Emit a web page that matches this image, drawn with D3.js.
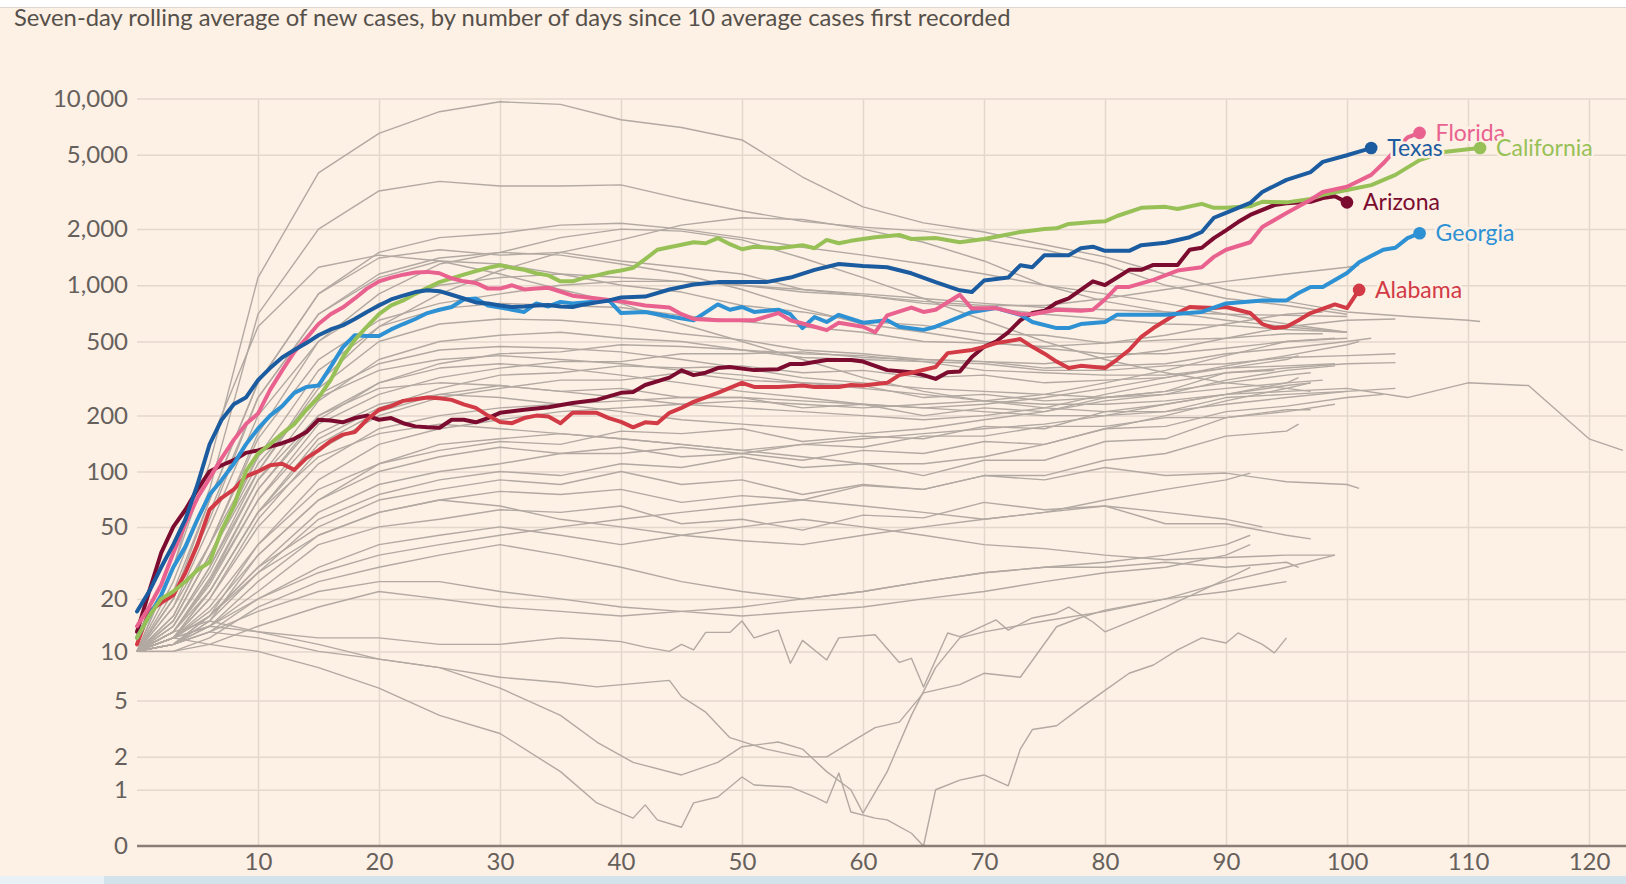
<!DOCTYPE html>
<html>
<head>
<meta charset="utf-8">
<script src="https://cdn.jsdelivr.net/npm/d3@7"></script>
<style>
  html, body { margin: 0; padding: 0; background: #fdf0e5; overflow: hidden; }
  svg { display: block; }
</style>
</head>
<body>
<div id="chart"></div>
<script>
// ---- data: seven-day average of new cases, by days since 10 average cases ----
const yTicks = [0, 1, 2, 5, 10, 20, 50, 100, 200, 500, 1000, 2000, 5000, 10000];
const xTicks = [10, 20, 30, 40, 50, 60, 70, 80, 90, 100, 110, 120];

// highlighted states as [day, cases]
const texas = [[0,17],[1,22],[2,30],[3,40],[4,55],[5,85],[6,140],[7,190],[8,230],[9,250],[10,310],[11,360],[12,410],[13,450],[14,490],[15,540],[16,580],[17,610],[18,660],[19,720],[20,780],[21,840],[22,880],[23,920],[24,940],[25,930],[26,890],[27,850],[28,810],[29,800],[30,780],[31,765],[32,770],[33,780],[34,785],[35,770],[36,765],[37,790],[38,810],[39,830],[40,860],[42,870],[44,950],[46,1010],[48,1040],[50,1040],[52,1040],[54,1100],[56,1210],[58,1300],[60,1270],[62,1250],[64,1160],[66,1040],[68,940],[69,920],[70,1060],[72,1100],[73,1280],[74,1250],[75,1450],[77,1450],[78,1580],[79,1610],[80,1530],[82,1530],[83,1640],[85,1690],[87,1810],[88,1930],[89,2300],[90,2440],[92,2760],[93,3160],[95,3670],[97,4040],[98,4580],[100,4970],[101,5200],[102,5430]];
const florida = [[0,14],[1,18],[2,24],[3,36],[4,52],[5,72],[6,92],[7,118],[8,148],[9,180],[10,205],[11,275],[12,350],[13,440],[14,520],[15,620],[16,700],[17,760],[18,850],[19,960],[20,1050],[21,1100],[22,1140],[23,1170],[24,1180],[25,1160],[26,1090],[27,1050],[28,1030],[29,960],[30,960],[31,1000],[32,950],[33,960],[34,970],[36,880],[38,850],[40,820],[42,780],[44,760],[45,700],[46,660],[48,650],[50,650],[51,650],[53,710],[54,650],[56,600],[57,575],[58,630],[60,600],[61,560],[62,690],[64,760],[65,720],[66,740],[68,890],[69,750],[71,755],[73,700],[74,700],[76,740],[78,730],[79,740],[80,840],[81,980],[82,980],[84,1070],[86,1200],[88,1250],[89,1420],[90,1550],[92,1700],[93,2050],[95,2440],[97,2870],[98,3160],[100,3370],[102,3900],[103,4500],[104,5300],[105,6200],[106,6550]];
const california = [[0,12],[1,16],[2,20],[3,22],[4,25],[5,29],[6,32],[7,48],[8,65],[9,100],[10,125],[11,140],[12,160],[13,180],[14,215],[15,250],[16,310],[17,410],[18,510],[19,600],[20,700],[21,780],[22,830],[23,900],[24,970],[25,1040],[26,1090],[27,1140],[28,1190],[29,1240],[30,1280],[31,1240],[32,1210],[33,1160],[34,1130],[35,1050],[36,1050],[37,1100],[38,1130],[39,1170],[40,1200],[41,1240],[42,1380],[43,1550],[44,1600],[46,1700],[47,1680],[48,1790],[49,1660],[50,1560],[51,1610],[53,1580],[55,1640],[56,1580],[57,1750],[58,1680],[59,1730],[61,1810],[63,1860],[64,1770],[66,1790],[68,1700],[70,1770],[71,1820],[73,1930],[75,2000],[76,2020],[77,2130],[79,2180],[80,2200],[81,2350],[83,2600],[85,2630],[86,2560],[88,2730],[89,2600],[90,2600],[92,2650],[93,2800],[95,2780],[97,2900],[98,3050],[100,3240],[102,3440],[104,3900],[106,4680],[108,5170],[110,5350],[111,5430]];
const arizona = [[0,13],[1,22],[2,36],[3,50],[4,62],[5,80],[6,100],[7,108],[8,115],[9,126],[10,130],[11,136],[12,142],[13,150],[14,163],[15,190],[16,188],[17,184],[18,194],[19,200],[20,190],[21,194],[22,182],[23,175],[24,173],[25,172],[26,190],[27,190],[28,184],[29,194],[30,207],[32,215],[34,222],[36,234],[38,243],[40,265],[41,268],[42,292],[44,320],[45,350],[46,330],[47,340],[48,360],[49,365],[51,351],[53,355],[54,379],[55,379],[57,398],[59,398],[60,390],[62,351],[64,342],[65,330],[66,315],[67,342],[68,345],[69,413],[70,468],[71,500],[72,560],[73,650],[74,710],[75,730],[76,806],[77,850],[78,945],[79,1050],[80,1003],[81,1100],[82,1210],[83,1210],[84,1285],[86,1285],[87,1552],[88,1590],[89,1790],[90,1970],[91,2180],[92,2380],[94,2690],[95,2750],[97,2800],[98,2930],[99,3000],[100,2780]];
const georgia = [[0,12],[1,16],[2,21],[3,30],[4,39],[5,55],[6,75],[7,90],[8,110],[9,140],[10,170],[11,200],[12,225],[13,265],[14,285],[15,290],[16,365],[17,465],[18,540],[19,535],[20,535],[21,580],[22,620],[23,660],[24,710],[25,740],[26,765],[27,840],[28,850],[29,780],[30,760],[31,740],[32,720],[33,800],[34,770],[35,815],[36,800],[37,810],[38,820],[39,830],[40,710],[42,720],[44,680],[46,650],[48,790],[49,740],[50,765],[51,720],[53,740],[54,700],[55,590],[56,676],[57,636],[58,695],[60,630],[62,650],[63,600],[65,577],[66,600],[67,636],[69,720],[71,755],[73,695],[74,636],[76,590],[77,590],[78,620],[80,636],[81,695],[85,695],[88,720],[90,800],[93,830],[95,830],[96,910],[97,980],[98,980],[100,1164],[101,1330],[103,1552],[104,1590],[105,1790],[106,1900]];
const alabama = [[0,11],[1,17],[2,19],[3,21],[4,28],[5,40],[6,62],[7,72],[8,80],[9,94],[10,100],[11,108],[12,110],[13,102],[14,118],[15,130],[16,146],[17,158],[18,163],[19,190],[20,215],[21,225],[22,240],[23,245],[24,250],[25,248],[26,243],[27,230],[28,220],[29,200],[30,185],[31,182],[32,194],[33,200],[34,198],[35,182],[36,207],[37,207],[38,207],[39,194],[40,185],[41,173],[42,184],[43,182],[44,207],[45,220],[46,237],[48,265],[50,300],[51,285],[53,285],[55,290],[56,285],[58,285],[59,292],[60,290],[62,300],[63,330],[64,340],[66,365],[67,433],[69,450],[70,468],[71,490],[73,515],[74,468],[75,430],[76,390],[77,360],[78,370],[80,360],[81,400],[82,450],[83,530],[84,590],[86,710],[87,765],[89,755],[90,765],[92,710],[93,620],[94,590],[95,600],[96,650],[97,710],[99,790],[100,755],[101,945]];

const highlightNames = ['Arizona', 'Alabama', 'Georgia', 'California', 'Florida', 'Texas'];
const highlightSeries = [arizona, alabama, georgia, california, florida, texas];

// other states: values on a shared day grid, last value sits on greyEnd day
const greyDays = [0, 3, 6, 10, 15, 20, 25, 30, 35, 40, 45, 50, 55, 60, 65, 70, 75, 80, 85, 90, 95, 100, 105, 110, 115, 120];
const greyEnd = [111, 100, 100, 100, 98, 97, 100, 100, 97, 101, 100, 98, 104, 104, 99, 102, 101, 99, 104, 122.8,
                 100, 103, 97, 99, 96, 101, 97, 99, 96, 92, 94, 98, 96, 97, 99, 97, 104, 96, 93, 92, 92];
const greyValues = [
  [10,30,110,1100,4000,6500,8500,9600,9300,7700,7000,6000,3800,2630,2160,1930,1650,1420,1150,950,820,720,680,650,640],
  [10,25,80,700,2000,3200,3600,3400,3400,3450,2900,2500,2200,2050,1950,1750,1550,1300,1000,850,780,700],
  [10,20,70,300,900,1500,1800,1900,2100,2150,2000,1800,1600,1450,1300,1150,1000,900,800,700,620,560],
  [10,22,70,300,900,1400,1550,1450,1500,1350,1250,1150,950,880,800,760,700,660,620,610,580,560],
  [10,20,55,250,700,1100,1350,1300,1150,1000,920,780,720,640,610,550,540,490,510,520,550,550],
  [10,18,40,160,500,900,1300,1500,1800,2000,1950,1750,1400,1100,850,650,500,400,340,300,280,270],
  [10,15,35,100,300,600,900,1200,1500,1750,2100,2300,2250,2000,1700,1350,1000,820,720,650,600,560],
  [10,20,60,250,700,1150,1400,1500,1450,1300,1150,950,750,620,560,500,460,430,430,460,500,520],
  [10,30,140,600,1250,1450,1350,1150,950,800,620,500,400,320,270,240,220,210,230,260,290,300],
  [10,18,50,200,500,800,1000,1100,1150,1100,1050,1000,920,880,820,780,780,850,950,1050,1150,1250,1280],
  [10,16,40,150,400,650,800,900,1000,1050,1050,1000,950,900,850,800,760,740,720,700,690,680],
  [10,15,35,120,350,600,750,800,780,760,690,640,600,560,500,490,470,490,540,620,700,720],
  [10,14,30,100,280,500,620,660,650,610,550,510,450,430,400,390,380,410,450,520,600,650,660],
  [10,14,28,90,240,400,500,540,560,520,500,450,430,420,390,380,350,350,370,380,410,420,430],
  [10,13,25,80,200,300,380,430,440,480,470,450,410,400,390,350,340,330,330,360,370,380],
  [10,13,24,70,180,260,320,360,390,390,430,430,440,410,400,390,360,370,380,430,460,500,520],
  [10,12,22,60,150,220,280,330,340,370,360,370,340,350,320,330,300,310,320,370,420,480,500],
  [10,12,20,55,130,200,250,280,310,310,340,310,300,290,250,260,240,250,260,310,350,370],
  [10,13,22,60,140,210,260,290,270,280,250,250,220,230,200,220,210,250,270,340,360,380,385],
  [10,16,40,120,250,350,400,420,400,380,350,330,300,280,260,240,230,230,240,260,270,280,250,300,290,150,130],
  [10,12,18,40,80,110,130,145,140,165,160,170,145,155,150,175,170,210,210,250,260,270],
  [10,12,17,35,70,100,120,135,125,135,120,125,115,130,125,145,140,170,175,210,225,250,260],
  [10,11,16,30,60,85,100,110,125,125,135,125,140,135,155,155,175,175,195,195,215,215],
  [10,11,15,28,55,75,90,100,95,110,105,120,105,110,95,115,115,145,150,195,210,230],
  [10,12,16,30,50,70,80,90,85,100,85,90,75,85,80,95,95,115,125,155,165,180],
  [10,11,14,25,45,60,70,78,75,80,68,74,70,84,80,95,90,105,95,98,88,85,81],
  [10,11,14,22,40,50,55,62,60,65,52,55,48,58,56,68,62,65,52,52,45,43],
  [10,12,14,20,30,40,45,50,45,40,45,50,55,50,45,40,38,35,33,34,35,35],
  [10,10,12,18,25,30,35,40,35,30,25,22,20,22,25,28,30,30,32,30,32,30],
  [10,11,13,17,22,25,25,22,20,18,17,16,17,18,20,22,25,28,30,35,40],
  [10,14,30,90,200,280,300,290,270,250,230,220,210,200,190,200,220,260,300,340,350],
  [10,13,25,70,160,230,260,250,230,210,190,180,170,160,170,190,210,240,260,280,300,310],
  [10,12,20,50,110,170,200,220,230,240,250,250,240,230,220,230,250,280,320,360,400,420],
  [10,15,35,110,260,380,450,470,460,440,400,360,320,300,280,270,260,250,270,300,330,340],
  [10,11,16,40,90,140,170,190,210,220,230,240,230,220,230,240,260,300,350,420,500,520],
  [10,12,22,60,120,160,180,170,160,150,140,130,120,110,110,120,140,170,200,240,280,300],
  [10,13,26,80,190,300,360,380,360,330,300,270,250,230,220,210,200,200,210,230,250,270,280],
  [10,11,15,35,70,110,140,150,160,150,140,130,140,150,160,170,180,200,230,260,300,320],
  [10,12,16,28,45,60,70,65,55,50,45,42,40,45,50,55,60,65,60,55,50],
  [10,11,13,20,28,35,40,45,50,55,60,65,70,65,60,55,60,70,80,90,98],
  [10,10,11,14,18,22,20,18,17,16,17,18,20,22,25,28,30,32,35,40,45]
];

// low states read at finer spacing, [day, cases]
const dipToZero = [[0,10],[3,12],[6,11],[10,10],[15,8],[20,6],[25,4],[30,3],[35,1.5],[38,0.7],[41,0.41],[42,0.66],[43,0.38],[45,0.26],[46,0.7],[48,0.83],[50,1.34],[51,1.12],[54,1.07],[56,0.83],[57,0.7],[58,1.46],[59,0.52],[61,0.41],[62,0.38],[64,0.17],[65,0],[66,1],[68,1.25],[70,1.4],[72,1.1],[73,2.3],[74,3.2],[76,3.4],[78,4.5],[80,5.8],[82,7.4],[84,8.3],[86,10.2],[88,12],[90,11.2],[91,12.8],[93,11],[94,9.8],[95,12]];
const dipAndRise = [[0,10],[3,12],[6,14],[10,13],[15,11],[20,9],[25,8],[30,6],[35,4],[38,2.6],[41,1.8],[45,1.4],[48,1.8],[50,2.4],[53,2.6],[55,2.3],[57,1.5],[59,1],[60,0.5],[62,1.5],[64,4],[66,8],[68,12],[70,13],[75,15],[80,17],[85,20],[90,25],[95,30],[99,35]];
const lowPlateau = [[0,10],[3,11],[6,13],[10,12],[15,10],[20,9],[25,8],[30,7],[35,6.5],[38,6.1],[44,6.7],[45,5.3],[47,4.2],[49,2.8],[52,2.3],[55,2],[57,2],[59,2.6],[61,3.3],[63,3.6],[65,5.6],[68,6.3],[70,7.4],[73,7],[76,13.9],[78,15.7],[80,17.3],[85,20],[90,22],[95,25]];
const jaggedTen = [[0,10],[3,13],[6,15],[10,13],[15,12],[20,12],[25,11],[30,11],[35,12],[38,11.7],[40,11.4],[42,10.6],[44,10],[45,11],[46,10.2],[47,12.9],[49,12.9],[50,15],[51,12],[53,13.3],[54,8.5],[55,11.6],[57,8.9],[58,12],[61,12.5],[63,8.6],[64,9.1],[65,6.1],[67,12.8],[68,12.2],[71,15.2],[72,13.3],[74,15.6],[76,16.6],[77,18],[79,14.8],[80,13],[85,18],[89,24],[92,30]];
const lowSeries = [dipToZero, dipAndRise, lowPlateau, jaggedTen];

const colours = {
  Texas: '#1b5b9f', Florida: '#e9628f', California: '#97c157',
  Arizona: '#7b0c30', Georgia: '#2d91d3', Alabama: '#d23a45'
};

class CasesChart {
  constructor(_config) {
    this.config = {
      parentElement: _config.parentElement,
      containerWidth: _config.containerWidth || 1626,
      containerHeight: _config.containerHeight || 884,
      plotLeft: 137,
      plotTop: 98.5,
      plotBottom: 846
    };
    this.initVis();
  }

  initVis() {
    let vis = this;
    const c = vis.config;

    vis.svg = d3.select(c.parentElement).append('svg')
      .attr('width', c.containerWidth)
      .attr('height', c.containerHeight);

    vis.svg.append('rect')
      .attr('width', c.containerWidth).attr('height', c.containerHeight)
      .attr('fill', '#fdf0e5');

    // strip at the very top and a scrollbar-like band at the bottom
    vis.svg.append('rect').attr('width', c.containerWidth).attr('height', 7).attr('fill', '#ffffff');
    vis.svg.append('line').attr('x1', 0).attr('x2', c.containerWidth).attr('y1', 7.5).attr('y2', 7.5)
      .attr('stroke', '#ddd5cf').attr('stroke-width', 1);
    vis.svg.append('rect').attr('y', 876).attr('width', c.containerWidth).attr('height', 8).attr('fill', '#d4e3eb');
    vis.svg.append('rect').attr('y', 876).attr('width', 104).attr('height', 8).attr('fill', '#e9f1f5');

    vis.xScale = d3.scaleLinear().domain([0, 120]).range([c.plotLeft, 1589]);
    vis.yScale = d3.scaleSymlog().constant(1).domain([0, 10000]).range([c.plotBottom, c.plotTop]);

    vis.yAxis = d3.axisLeft(vis.yScale)
      .tickValues(yTicks)
      .tickFormat(d3.format(','))
      .tickSize(-(c.containerWidth - c.plotLeft))
      .tickPadding(9);
    vis.xAxis = d3.axisBottom(vis.xScale)
      .tickValues(xTicks)
      .tickSize(-(c.plotBottom - c.plotTop))
      .tickPadding(7);

    vis.xAxisG = vis.svg.append('g').attr('transform', `translate(0,${c.plotBottom})`);
    vis.yAxisG = vis.svg.append('g').attr('transform', `translate(${c.plotLeft},0)`);

    vis.lineG = vis.svg.append('g');
    vis.labelG = vis.svg.append('g');

    vis.line = d3.line()
      .x(d => vis.xScale(d[0]))
      .y(d => vis.yScale(d[1]));

    // title
    vis.title = vis.svg.append('text')
      .attr('x', 14).attr('y', 26)
      .attr('font-family', 'Lato, "Noto Sans", sans-serif')
      .attr('font-size', 20)
      .attr('fill', '#56504b')
      .text('Seven-day rolling average of new cases, by number of days since 10 average cases first recorded');
    const w = vis.title.node().getComputedTextLength();
    vis.title.attr('font-size', 20 * 997 / w);
  }

  renderVis() {
    let vis = this;
    const c = vis.config;

    vis.yAxisG.call(vis.yAxis);
    vis.xAxisG.call(vis.xAxis);
    [vis.yAxisG, vis.xAxisG].forEach(g => {
      g.select('.domain').remove();
      g.selectAll('.tick line').attr('stroke', '#e4d7cc').attr('stroke-width', 1.5);
      g.selectAll('.tick text')
        .attr('font-family', 'Lato, "Noto Sans", sans-serif')
        .attr('font-size', 24)
        .attr('fill', '#66605c');
    });
    vis.yAxisG.selectAll('.tick').filter(d => d === 0).select('line').remove();

    // other states
    const greyData = greyValues.map((vals, i) =>
      vals.map((v, j) => [j === vals.length - 1 ? greyEnd[i] : greyDays[j], v]));
    const allGrey = greyData.concat(lowSeries);

    vis.lineG.selectAll('.grey').data(allGrey).join('path')
      .attr('class', 'grey')
      .attr('d', vis.line)
      .attr('fill', 'none')
      .attr('stroke', '#b2a9a2')
      .attr('stroke-width', 1.4)
      .attr('stroke-linejoin', 'round');

    // baseline at zero
    vis.lineG.append('line')
      .attr('x1', c.plotLeft).attr('x2', c.containerWidth)
      .attr('y1', vis.yScale(0)).attr('y2', vis.yScale(0))
      .attr('stroke', '#8a7d76').attr('stroke-width', 2.5);

    // highlighted states
    const hl = highlightSeries.map((s, i) => ({ name: highlightNames[i], values: s }));
    vis.lineG.selectAll('.hl').data(hl).join('path')
      .attr('class', 'hl')
      .attr('d', d => vis.line(d.values))
      .attr('fill', 'none')
      .attr('stroke', d => colours[d.name])
      .attr('stroke-width', 4)
      .attr('stroke-linejoin', 'round')
      .attr('stroke-linecap', 'round');

    const labelOrder = ['Arizona', 'Alabama', 'Georgia', 'Texas', 'Florida', 'California'];
    const ends = labelOrder.map(n => {
      const s = hl.find(h => h.name === n).values;
      return { name: n, d: s[s.length - 1] };
    });

    const lab = vis.labelG.selectAll('g').data(ends).join('g')
      .attr('transform', d => `translate(${vis.xScale(d.d[0])},${vis.yScale(d.d[1])})`);
    lab.append('text')
      .attr('x', 16).attr('y', 8)
      .attr('font-family', 'Lato, "Noto Sans", sans-serif')
      .attr('font-size', 23)
      .attr('fill', d => colours[d.name])
      .attr('stroke', '#fdf0e5').attr('stroke-width', 5)
      .attr('paint-order', 'stroke')
      .attr('stroke-linejoin', 'round')
      .text(d => d.name);
    lab.append('circle')
      .attr('r', 6.3)
      .attr('fill', d => colours[d.name]);
  }
}

const chart = new CasesChart({ parentElement: '#chart' });
chart.renderVis();
</script>
</body>
</html>
